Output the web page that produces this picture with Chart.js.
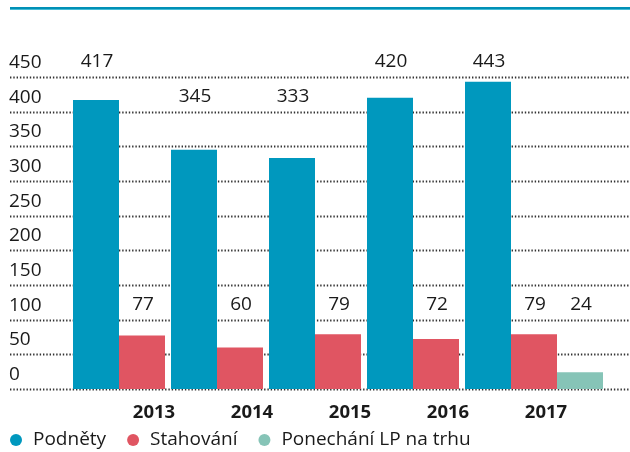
<!DOCTYPE html>
<html>
<head>
<meta charset="utf-8">
<script src="https://cdn.jsdelivr.net/npm/chart.js@4/dist/chart.umd.min.js"></script>
<style>
  html, body { margin: 0; padding: 0; background: #fff; }
  #wrap { position: relative; width: 630px; height: 452px; }
  #topline { position: absolute; left: 10px; right: 0; top: 7px; height: 2px; background: #0090b6; border-bottom: 1px solid #46bcd6; }
  canvas { position: absolute; left: 0; top: 0; }
</style>
</head>
<body>
<div id="wrap">
  <div id="topline"></div>
  <canvas id="chart" width="630" height="452"></canvas>
</div>
<script>
// data
const years = ["2013", "2014", "2015", "2016", "2017"];
const podnety = [417, 345, 333, 420, 443];
const stahovani = [77, 60, 79, 72, 79];
const ponechani = [null, null, null, null, 24];
const yTicks = [0, 50, 100, 150, 200, 250, 300, 350, 400, 450];

const FONT = "'Open Sans', 'DejaVu Sans', sans-serif";
const TEXT = "#1a1a1a";

// dotted gridlines + tick labels above each line, full width
const gridPlugin = {
    id: 'dottedGrid',
    beforeDatasetsDraw(chart) {
        const { ctx, scales: { y } } = chart;
        ctx.save();
        ctx.strokeStyle = '#333';
        ctx.lineWidth = 2;
        ctx.setLineDash([1.4, 1.9]);
        ctx.font = '19px ' + FONT;
        ctx.fillStyle = TEXT;
        ctx.textAlign = 'left';
        ctx.textBaseline = 'middle';
        yTicks.forEach(t => {
            const py = Math.round(y.getPixelForValue(t)) + 0.5;
            ctx.beginPath();
            ctx.moveTo(10, py);
            ctx.lineTo(chart.width, py);
            ctx.stroke();
            ctx.fillText(String(t), 9, py - 15);
        });
        ctx.restore();
    }
};

// value labels sit on the tick row just above each bar
const valuePlugin = {
    id: 'valueLabels',
    afterDatasetsDraw(chart) {
        const { ctx, scales: { y } } = chart;
        ctx.save();
        ctx.font = '19px ' + FONT;
        ctx.fillStyle = TEXT;
        ctx.textAlign = 'center';
        ctx.textBaseline = 'middle';
        chart.data.datasets.forEach((ds, di) => {
            const meta = chart.getDatasetMeta(di);
            ds.data.forEach((v, i) => {
                if (v == null) return;
                let level = Math.ceil((v + 20) / 50) * 50;
                level = Math.min(450, Math.max(100, level));
                const bar = meta.data[i];
                ctx.fillText(String(v), bar.x + 1, y.getPixelForValue(level) - 15);
            });
        });
        ctx.restore();
    }
};

// legend drawn by hand to match spacing
const legendPlugin = {
    id: 'dotLegend',
    afterDraw(chart) {
        const { ctx } = chart;
        ctx.save();
        ctx.font = '19px ' + FONT;
        ctx.textBaseline = 'middle';
        ctx.textAlign = 'left';
        let x = 16;
        const yy = 440;
        chart.data.datasets.forEach(ds => {
            ctx.fillStyle = ds.backgroundColor;
            ctx.beginPath();
            ctx.arc(x, yy, 6, 0, Math.PI * 2);
            ctx.fill();
            ctx.fillStyle = TEXT;
            ctx.fillText(ds.label, x + 17, yy);
            x += 17 + ctx.measureText(ds.label).width + 27;
        });
        ctx.restore();
    }
};

new Chart(document.getElementById('chart'), {
    type: 'bar',
    data: {
        labels: years,
        datasets: [
            { label: 'Podněty', data: podnety, backgroundColor: '#0098be' },
            { label: 'Stahování', data: stahovani, backgroundColor: '#e05562' },
            { label: 'Ponechání LP na trhu', data: ponechani, backgroundColor: '#86c4b7' }
        ]
    },
    options: {
        responsive: false,
        animation: false,
        events: [],
        layout: { padding: { left: 93, right: 47, top: 77, bottom: 0 } },
        datasets: { bar: { categoryPercentage: 138 / 98, barPercentage: 1, clip: false } },
        plugins: { legend: { display: false }, tooltip: { enabled: false } },
        scales: {
            y: { display: false, min: 0, max: 450 },
            x: {
                grid: { display: false, drawTicks: false },
                border: { display: false },
                afterFit: s => { s.height = 63; },
                ticks: {
                    padding: 13,
                    labelOffset: 12,
                    color: TEXT,
                    font: { family: FONT, size: 18.5, weight: 'bold' }
                }
            }
        }
    },
    plugins: [gridPlugin, valuePlugin, legendPlugin]
});
</script>
</body>
</html>
